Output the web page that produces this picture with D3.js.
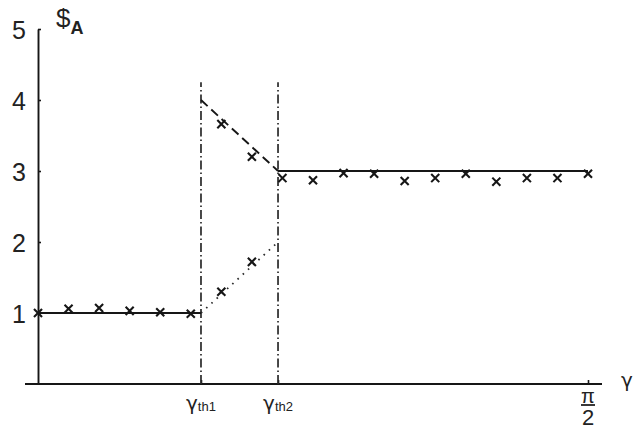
<!DOCTYPE html>
<html>
<head>
<meta charset="utf-8">
<script src="https://cdn.jsdelivr.net/npm/d3@7"></script>
<style>
  html, body { margin: 0; padding: 0; background: #fff; }
  svg { display: block; font-family: "Liberation Sans", Arial, sans-serif; }
</style>
</head>
<body>
<svg id="chart" width="636" height="429"></svg>
<script>
// Switching angles and x range (radians)
const gammaMax = Math.PI / 2;
const gammaTh1 = 0.4655;
const gammaTh2 = 0.6855;

// Simulated samples, taken every pi/36
const sampleStep = Math.PI / 36;
const lowIdx = [0, 1, 2, 3, 4, 5];
const lowVals = [1.00, 1.06, 1.07, 1.03, 1.01, 0.99];
const midIdx = [6, 7];
const midUpperVals = [3.66, 3.20];
const midLowerVals = [1.30, 1.72];
const highIdx = [8, 9, 10, 11, 12, 13, 14, 15, 16, 17, 18];
const highVals = [2.90, 2.87, 2.97, 2.96, 2.86, 2.90, 2.96, 2.85, 2.90, 2.90, 2.96];

// Theoretical branches: [gamma, value] pairs
const solidLow = [[0, 1], [gammaTh1, 1]];
const solidHigh = [[gammaTh2, 3], [gammaMax, 3]];
const dashedBranch = [[gammaTh1, 4], [gammaTh2, 3]];
const dottedBranch = [[gammaTh1, 1], [gammaTh2, 2]];

const yTicks = [1, 2, 3, 4, 5];

const svg = d3.select("#chart");
const ink = "#161616";
const textInk = "#222";

const x = d3.scaleLinear().domain([0, gammaMax]).range([38, 588]);
const y = d3.scaleLinear().domain([0, 5]).range([384, 29]);

// x axis line (runs a little past both ends) and inner ticks
svg.append("line")
  .attr("x1", x(0) - 13).attr("x2", x(gammaMax) + 14)
  .attr("y1", y(0)).attr("y2", y(0))
  .attr("stroke", ink).attr("stroke-width", 1.9);

const xAxis = svg.append("g")
  .attr("transform", `translate(0,${y(0)})`)
  .call(d3.axisBottom(x).tickValues([gammaTh1, gammaTh2, gammaMax])
    .tickSizeInner(-4).tickSizeOuter(0).tickFormat(""));
xAxis.select(".domain").remove();
xAxis.selectAll(".tick line").attr("stroke", ink).attr("stroke-width", 1.6);

// y axis with inward ticks
const yAxis = svg.append("g")
  .attr("transform", `translate(${x(0)},0)`)
  .call(d3.axisLeft(y).tickValues(yTicks).tickSizeInner(-3).tickSizeOuter(0)
    .tickPadding(12).tickFormat(d3.format("d")));
yAxis.select(".domain").attr("stroke", ink).attr("stroke-width", 1.9);
yAxis.selectAll(".tick line").attr("stroke", ink).attr("stroke-width", 1.6);
yAxis.selectAll(".tick text")
  .attr("font-family", "Liberation Sans, Arial, sans-serif")
  .attr("font-size", 25).attr("fill", textInk).attr("dy", "0.36em");

// y label
const yLab = svg.append("text")
  .attr("x", 56).attr("y", 27)
  .attr("font-size", 26).attr("fill", textInk);
yLab.append("tspan").text("$");
yLab.append("tspan").attr("font-size", 18).attr("font-weight", "bold")
  .attr("dy", 7).attr("dx", 0).text("A");

// Threshold guides (dash-dot)
[gammaTh1, gammaTh2].forEach(g => {
  svg.append("line")
    .attr("x1", x(g)).attr("x2", x(g))
    .attr("y1", y(0)).attr("y2", y(4.25))
    .attr("stroke", "#2a2a2a").attr("stroke-width", 1.7)
    .attr("stroke-dasharray", "9,3,1.5,3");
});

// Theoretical curves
const line = d3.line().x(d => x(d[0])).y(d => y(d[1]));
svg.append("path").attr("d", line(solidLow))
  .attr("fill", "none").attr("stroke", ink).attr("stroke-width", 1.9);
svg.append("path").attr("d", line(solidHigh))
  .attr("fill", "none").attr("stroke", ink).attr("stroke-width", 1.9);
svg.append("path").attr("d", line(dashedBranch))
  .attr("fill", "none").attr("stroke", ink).attr("stroke-width", 1.9)
  .attr("stroke-dasharray", "9,5");
svg.append("path").attr("d", line(dottedBranch))
  .attr("fill", "none").attr("stroke", "#2a2a2a").attr("stroke-width", 1.8)
  .attr("stroke-dasharray", "1.6,5.5");

// Sample markers (x crosses)
const samples = [];
lowIdx.forEach((k, i) => samples.push([k * sampleStep, lowVals[i]]));
midIdx.forEach((k, i) => samples.push([k * sampleStep, midUpperVals[i]]));
midIdx.forEach((k, i) => samples.push([k * sampleStep, midLowerVals[i]]));
highIdx.forEach((k, i) => samples.push([k * sampleStep, highVals[i]]));

const cross = d3.symbol().type(d3.symbolX).size(44);
svg.append("g").selectAll("path")
  .data(samples).join("path")
  .attr("d", cross)
  .attr("transform", d => `translate(${x(d[0])},${y(d[1])})`)
  .attr("fill", "none").attr("stroke", ink).attr("stroke-width", 2.1);

// x tick labels
function gammaLabel(g, sub) {
  const t = svg.append("text")
    .attr("x", x(g)).attr("y", y(0) + 26)
    .attr("text-anchor", "middle").attr("fill", textInk)
    .attr("font-family", "DejaVu Sans, sans-serif");
  t.append("tspan").attr("font-size", 20).text("γ");
  t.append("tspan").attr("font-size", 13).attr("dy", 1)
    .attr("font-family", "Liberation Sans, Arial, sans-serif").text(sub);
}
gammaLabel(gammaTh1, "th1");
gammaLabel(gammaTh2, "th2");

// pi/2 label as a stacked fraction
svg.append("text").attr("x", x(gammaMax)).attr("y", y(0) + 19)
  .attr("text-anchor", "middle").attr("font-size", 20).attr("fill", textInk)
  .attr("font-family", "Liberation Sans, Arial, sans-serif").text("π");
svg.append("line")
  .attr("x1", x(gammaMax) - 7).attr("x2", x(gammaMax) + 7)
  .attr("y1", y(0) + 21).attr("y2", y(0) + 21)
  .attr("stroke", textInk).attr("stroke-width", 1.8);
svg.append("text").attr("x", x(gammaMax)).attr("y", y(0) + 41)
  .attr("text-anchor", "middle").attr("font-size", 22).attr("fill", textInk)
  .attr("font-family", "Liberation Sans, Arial, sans-serif").text("2");

// x label
svg.append("text").attr("x", 627).attr("y", y(0) + 3)
  .attr("text-anchor", "middle").attr("font-size", 20).attr("fill", textInk)
  .attr("font-family", "DejaVu Sans, sans-serif").text("γ");
</script>
</body>
</html>
